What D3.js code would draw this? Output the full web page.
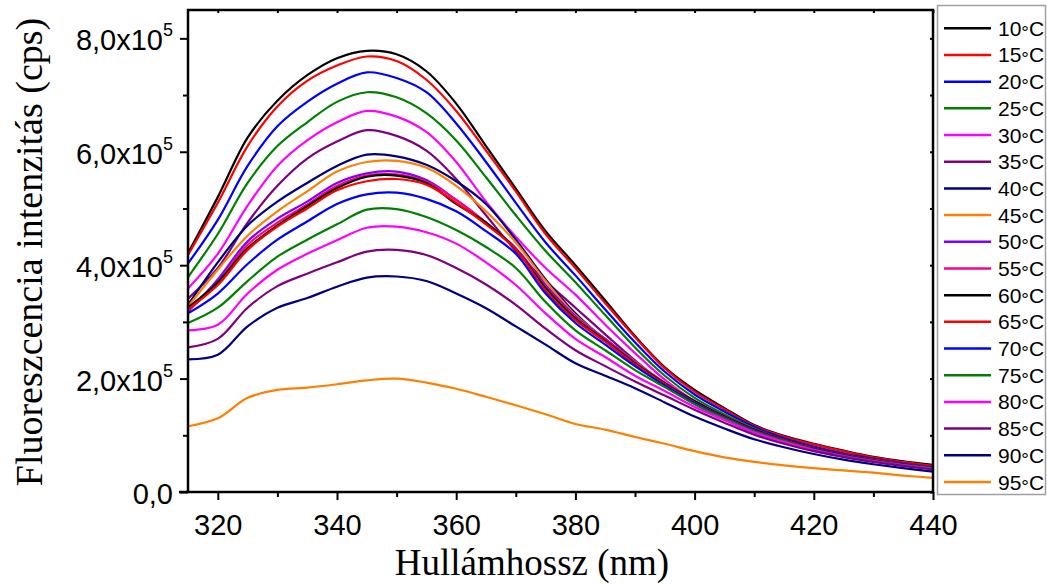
<!DOCTYPE html>
<html>
<head>
<meta charset="utf-8">
<script src="https://cdn.jsdelivr.net/npm/d3@7"></script>
<style>
  body { margin: 0; background: #fff; }
  svg { display: block; }
</style>
</head>
<body>
<div id="root"></div>
<script>
// wavelength (nm)
const wavelength = [315, 320, 325, 330, 335, 340, 345, 350, 355, 360, 365, 370, 375,
    380, 385, 390, 395, 400, 405, 410, 415, 420, 425, 430, 435, 440];

const temps = [10, 15, 20, 25, 30, 35, 40, 45, 50, 55, 60, 65, 70, 75, 80, 85, 90, 95];

// intensity in units of 1e5 cps, one array per temperature
const t10 = [4.21, 5.2, 6.25, 6.9, 7.35, 7.65, 7.78, 7.72, 7.42, 6.85, 6.1, 5.35, 4.6, 4.0, 3.38, 2.75, 2.2, 1.8, 1.48, 1.18, 0.99, 0.85, 0.73, 0.62, 0.54, 0.48];
const t15 = [4.18, 5.1, 6.1, 6.8, 7.25, 7.52, 7.68, 7.6, 7.27, 6.72, 6.02, 5.3, 4.55, 3.95, 3.33, 2.73, 2.18, 1.77, 1.46, 1.17, 0.98, 0.84, 0.72, 0.61, 0.53, 0.46];
const t20 = [4.03, 4.8, 5.75, 6.45, 6.88, 7.2, 7.4, 7.3, 7.05, 6.5, 5.82, 5.1, 4.4, 3.82, 3.22, 2.64, 2.12, 1.72, 1.42, 1.15, 0.95, 0.8, 0.68, 0.59, 0.51, 0.44];
const t25 = [3.79, 4.55, 5.45, 6.1, 6.52, 6.88, 7.05, 6.96, 6.68, 6.2, 5.55, 4.88, 4.25, 3.7, 3.12, 2.55, 2.05, 1.66, 1.37, 1.12, 0.92, 0.77, 0.66, 0.57, 0.49, 0.43];
const t30 = [3.59, 4.2, 5.05, 5.75, 6.2, 6.52, 6.72, 6.62, 6.35, 5.82, 5.12, 4.5, 3.95, 3.48, 2.95, 2.45, 1.98, 1.6, 1.32, 1.08, 0.89, 0.75, 0.64, 0.55, 0.48, 0.42];
const t35 = [3.41, 3.95, 4.75, 5.4, 5.88, 6.18, 6.38, 6.28, 6.02, 5.52, 4.88, 4.25, 3.72, 3.25, 2.78, 2.32, 1.9, 1.55, 1.28, 1.05, 0.87, 0.73, 0.62, 0.54, 0.47, 0.41];
const t40 = [3.3, 4.05, 4.7, 5.12, 5.45, 5.75, 5.95, 5.92, 5.77, 5.48, 5.08, 4.45, 3.75, 3.15, 2.68, 2.28, 1.92, 1.6, 1.33, 1.1, 0.92, 0.77, 0.66, 0.57, 0.5, 0.43];
const t45 = [3.27, 3.92, 4.52, 4.95, 5.3, 5.65, 5.82, 5.84, 5.72, 5.4, 4.95, 4.4, 3.72, 3.12, 2.7, 2.3, 1.93, 1.6, 1.33, 1.1, 0.92, 0.78, 0.67, 0.58, 0.5, 0.44];
const t50 = [3.18, 3.75, 4.42, 4.82, 5.12, 5.45, 5.62, 5.65, 5.5, 5.15, 4.75, 4.3, 3.65, 3.1, 2.7, 2.29, 1.92, 1.6, 1.33, 1.1, 0.92, 0.78, 0.67, 0.58, 0.5, 0.44];
const t55 = [3.2, 3.7, 4.36, 4.75, 5.07, 5.4, 5.58, 5.6, 5.47, 5.15, 4.75, 4.28, 3.62, 3.08, 2.68, 2.28, 1.92, 1.6, 1.33, 1.1, 0.92, 0.78, 0.67, 0.58, 0.5, 0.44];
const t60 = [3.25, 3.7, 4.3, 4.7, 5.04, 5.36, 5.56, 5.58, 5.45, 5.08, 4.75, 4.28, 3.6, 3.06, 2.67, 2.27, 1.92, 1.6, 1.33, 1.1, 0.92, 0.78, 0.67, 0.58, 0.5, 0.44];
const t65 = [3.22, 3.65, 4.27, 4.68, 5.0, 5.32, 5.48, 5.52, 5.42, 5.1, 4.72, 4.28, 3.55, 3.03, 2.65, 2.25, 1.9, 1.58, 1.32, 1.09, 0.91, 0.77, 0.66, 0.57, 0.5, 0.44];
const t70 = [3.15, 3.5, 4.02, 4.45, 4.77, 5.08, 5.25, 5.28, 5.17, 4.95, 4.6, 4.2, 3.5, 2.98, 2.6, 2.22, 1.88, 1.57, 1.31, 1.08, 0.9, 0.76, 0.65, 0.56, 0.49, 0.43];
const t75 = [2.98, 3.25, 3.72, 4.15, 4.45, 4.72, 4.98, 4.99, 4.85, 4.62, 4.32, 3.95, 3.35, 2.85, 2.5, 2.15, 1.85, 1.55, 1.3, 1.07, 0.9, 0.75, 0.64, 0.55, 0.48, 0.42];
const t80 = [2.85, 2.95, 3.5, 3.92, 4.2, 4.44, 4.66, 4.68, 4.58, 4.38, 4.05, 3.65, 3.15, 2.7, 2.38, 2.05, 1.78, 1.5, 1.27, 1.05, 0.88, 0.74, 0.63, 0.54, 0.47, 0.41];
const t85 = [2.55, 2.7, 3.25, 3.63, 3.85, 4.05, 4.24, 4.27, 4.18, 3.95, 3.66, 3.3, 2.88, 2.5, 2.22, 1.95, 1.7, 1.45, 1.22, 1.01, 0.85, 0.72, 0.62, 0.53, 0.46, 0.4];
const t90 = [2.34, 2.42, 2.92, 3.25, 3.42, 3.62, 3.78, 3.8, 3.72, 3.5, 3.24, 2.92, 2.6, 2.27, 2.05, 1.83, 1.58, 1.33, 1.12, 0.93, 0.79, 0.67, 0.57, 0.49, 0.42, 0.36];
const t95 = [1.16, 1.3, 1.66, 1.8, 1.84, 1.9, 1.97, 2.0, 1.93, 1.82, 1.68, 1.53, 1.37, 1.2, 1.1, 0.97, 0.85, 0.72, 0.61, 0.53, 0.47, 0.42, 0.38, 0.34, 0.29, 0.25];

const intensities = [t10, t15, t20, t25, t30, t35, t40, t45, t50, t55, t60, t65, t70, t75, t80, t85, t90, t95];

const colors = ["#000000", "#ff0000", "#0000ff", "#008000", "#ff00ff", "#800080", "#000080", "#ff8000", "#8000ff",
    "#ff0080", "#000000", "#ff0000", "#0000ff", "#008000", "#ff00ff", "#800080", "#000080", "#ff8000"];

const xMajor = [320, 340, 360, 380, 400, 420, 440];
const xMinor = [330, 350, 370, 390, 410, 430];
const yMajor = [0, 2, 4, 6, 8];
const yMinor = [1, 3, 5, 7];

const w = 1047;
const h = 584;
const plotL = 188, plotR = 933, plotT = 10, plotB = 492;

const sans = "'Liberation Sans', Arial, sans-serif";
const serif = "'Liberation Serif', 'Times New Roman', serif";

const svg = d3.select("#root")
    .append("svg")
    .attr("width", w)
    .attr("height", h);

const x = d3.scaleLinear().domain([315, 440]).range([plotL, plotR]);
const y = d3.scaleLinear().domain([0, 8.5]).range([plotB, plotT]);

// curves
const line = d3.line()
    .curve(d3.curveCatmullRom.alpha(0.5))
    .x((d, i) => x(wavelength[i]))
    .y(d => y(d));

svg.append("g")
    .selectAll("path")
    .data(intensities)
    .enter()
    .append("path")
    .attr("fill", "none")
    .attr("stroke", (d, i) => colors[i])
    .attr("stroke-width", 2.2)
    .attr("stroke-linejoin", "round")
    .attr("d", line);

// minor ticks
svg.append("g")
    .attr("transform", `translate(0,${plotB})`)
    .call(d3.axisBottom(x).tickValues(xMinor).tickSize(5).tickFormat(""))
    .call(g => g.select(".domain").remove());
svg.append("g")
    .attr("transform", `translate(${plotL},0)`)
    .call(d3.axisLeft(y).tickValues(yMinor).tickSize(5).tickFormat(""))
    .call(g => g.select(".domain").remove());

// small inner ticks on top and right
svg.append("g")
    .attr("transform", `translate(0,${plotT})`)
    .call(d3.axisBottom(x).tickValues(xMajor.concat(xMinor)).tickSize(3).tickFormat(""))
    .call(g => g.select(".domain").remove());
svg.append("g")
    .attr("transform", `translate(${plotR},0)`)
    .call(d3.axisLeft(y).tickValues(yMajor.concat(yMinor)).tickSize(3).tickFormat(""))
    .call(g => g.select(".domain").remove());

// major x axis
const xAxis = svg.append("g")
    .attr("transform", `translate(0,${plotB})`)
    .call(d3.axisBottom(x).tickValues(xMajor).tickSize(8).tickPadding(14));
xAxis.select(".domain").remove();
xAxis.selectAll("text")
    .attr("font-family", sans)
    .attr("font-size", 29)
    .attr("fill", "#000");

// major y axis, labels like 2,0x10^5
const yAxis = svg.append("g")
    .attr("transform", `translate(${plotL},0)`)
    .call(d3.axisLeft(y).tickValues(yMajor).tickSize(8).tickPadding(7));
yAxis.select(".domain").remove();
yAxis.selectAll("text")
    .attr("font-family", sans)
    .attr("font-size", 29)
    .attr("fill", "#000")
    .attr("dy", "0.4em")
    .each(function (d) {
        const t = d3.select(this).text("");
        if (d === 0) {
            t.append("tspan").text("0,0");
        } else {
            t.append("tspan").text(d + ",0x10");
            t.append("tspan").attr("dy", -14).attr("font-size", 18).text("5");
        }
    });

svg.selectAll(".tick line").attr("stroke", "#000").attr("stroke-width", 2);

// frame
svg.append("rect")
    .attr("x", plotL)
    .attr("y", plotT)
    .attr("width", plotR - plotL)
    .attr("height", plotB - plotT)
    .attr("fill", "none")
    .attr("stroke", "#000")
    .attr("stroke-width", 2.5);
// x axis line runs a little past the y axis
svg.append("line")
    .attr("x1", plotL - 9).attr("x2", plotL)
    .attr("y1", plotB).attr("y2", plotB)
    .attr("stroke", "#000").attr("stroke-width", 2.5);

// axis titles
svg.append("text")
    .attr("x", 532)
    .attr("y", 575)
    .attr("text-anchor", "middle")
    .attr("font-family", serif)
    .attr("font-size", 37)
    .text("Hullámhossz (nm)");

svg.append("text")
    .attr("transform", `translate(42,252) rotate(-90)`)
    .attr("text-anchor", "middle")
    .attr("font-family", serif)
    .attr("font-size", 38)
    .text("Fluoreszcencia intenzitás (cps)");

// legend
const legend = svg.append("g");
legend.append("rect")
    .attr("x", 937.5)
    .attr("y", 5.5)
    .attr("width", 108)
    .attr("height", 489)
    .attr("fill", "#fff")
    .attr("stroke", "#a0a0a0")
    .attr("stroke-width", 1.5);

const ly = d3.scaleLinear().domain([0, temps.length - 1]).range([28.3, 482]);

legend.selectAll("line.key")
    .data(temps)
    .enter()
    .append("line")
    .attr("class", "key")
    .attr("x1", 944)
    .attr("x2", 991)
    .attr("y1", (d, i) => ly(i))
    .attr("y2", (d, i) => ly(i))
    .attr("stroke", (d, i) => colors[i])
    .attr("stroke-width", 2.5);

legend.selectAll("text")
    .data(temps)
    .enter()
    .append("text")
    .attr("x", 998)
    .attr("y", (d, i) => ly(i) + 7.5)
    .attr("font-family", sans)
    .attr("font-size", 21)
    .each(function (d) {
        const t = d3.select(this);
        t.append("tspan").text(d);
        t.append("tspan").attr("dy", 3).attr("font-size", 19).text("°");
        t.append("tspan").attr("dy", -3).text("C");
    });
</script>
</body>
</html>
